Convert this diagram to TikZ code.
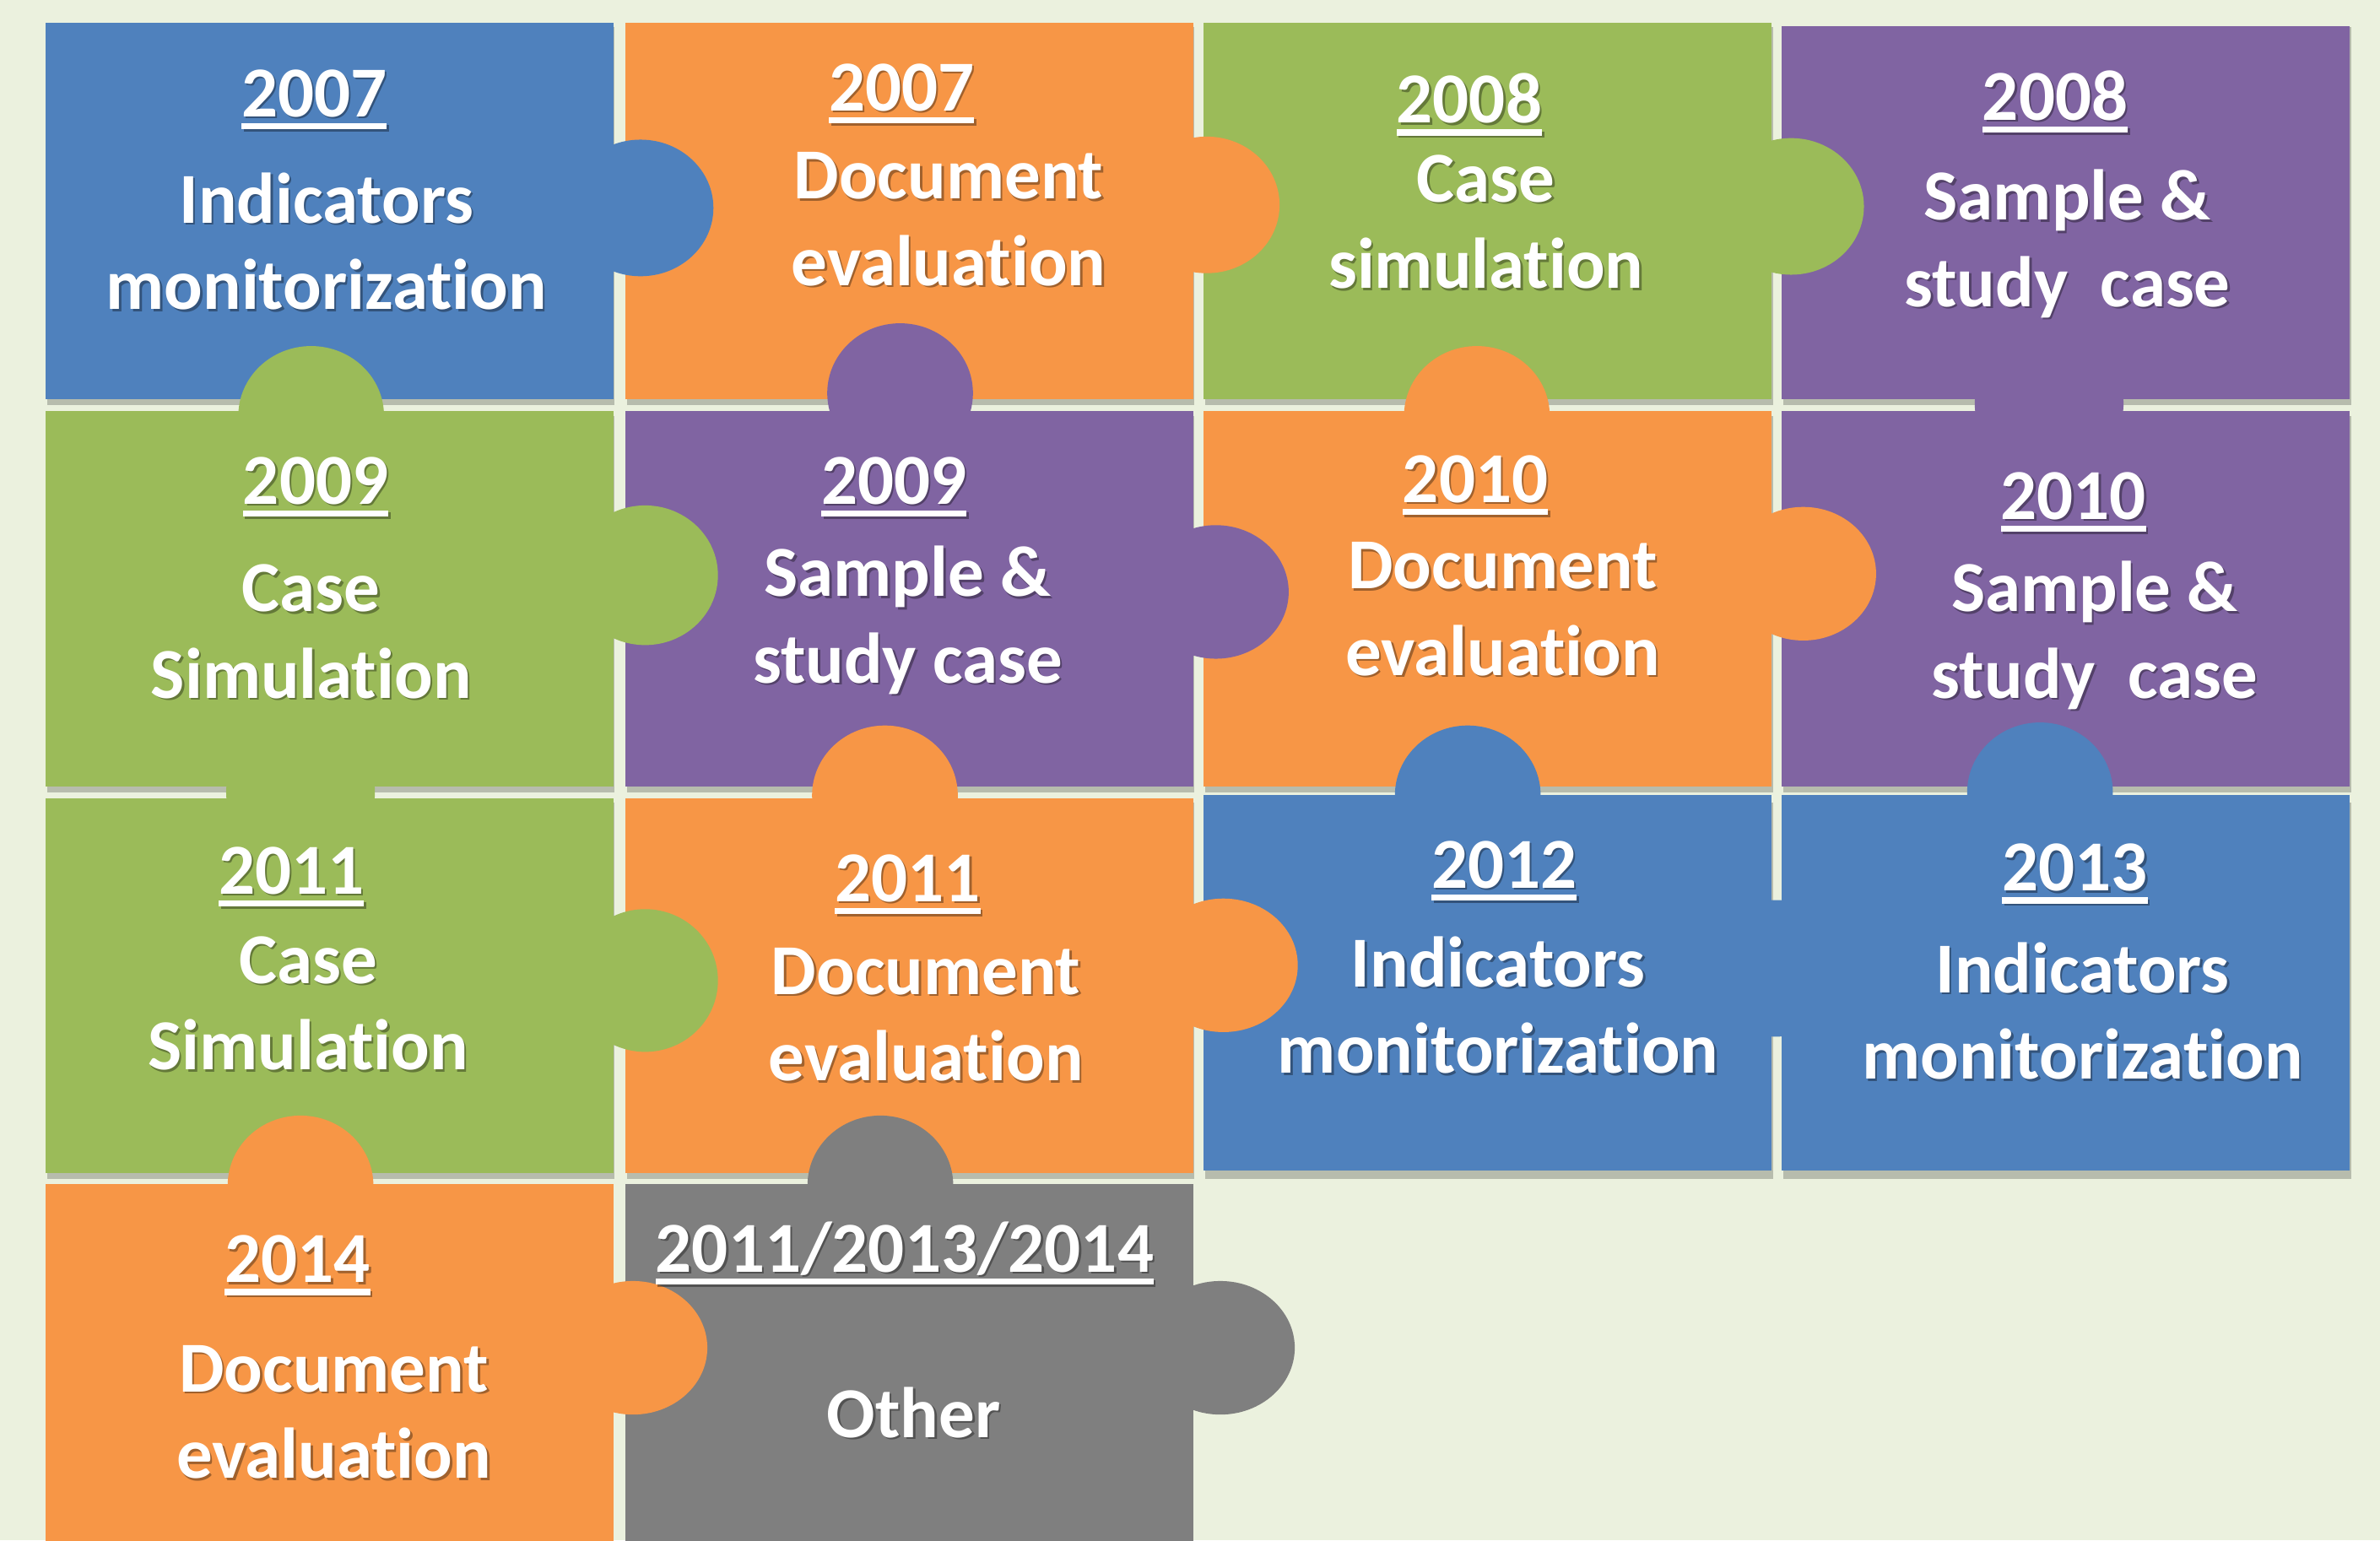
\documentclass[tikz,border=0pt]{standalone}
\usepackage{fontspec}
\setmainfont{Carlito}[Ligatures=NoCommon]
\definecolor{bgc}{HTML}{EBF1DE}
\definecolor{pblue}{HTML}{4F81BD}
\definecolor{porange}{HTML}{F79646}
\definecolor{pgreen}{HTML}{9BBB59}
\definecolor{ppurple}{HTML}{8064A2}
\definecolor{pgray}{HTML}{7F7F7F}
\newcommand\yr[1]{\setbox0\hbox{#1}\leavevmode\rlap{\rule[-15pt]{\wd0}{7.5pt}}\box0}
\tikzset{
  txt/.style={anchor=base, inner sep=0pt, text=white, font=\fontsize{85}{102}\selectfont\bfseries},
  shd/.style={txt, text=black, opacity=.35},
}
\newcommand\tx[4]{%
  \node[shd] at ([xshift=2.5pt,yshift=-2.5pt]#2,#3) {#4};
  \node[txt] (#1) at (#2,#3) {#4};}
\newcommand\card[8]{% name, yearx, yeary, year, bodyx, line1y, line1, line2
  \tx{#1y}{#2}{#3}{\yr{#4}}
  \tx{#1a}{#5}{#6}{#7}
  \pgfmathsetmacro\secondy{#6+57}
  \tx{#1b}{#5}{\secondy}{#8}}
\begin{document}
\begin{tikzpicture}[x=1.7985pt,y=-1.7985pt]
\useasboundingbox (0,0) rectangle (1568,1015);
\clip (0,0) rectangle (1568,1015);
\fill[bgc] (0,0) rectangle (1568,1015);
% shadows of pieces
\foreach \xa/\xb in {30/404,412/786,793/1167,1174/1548}{
  \foreach \ya/\yb in {15/263,271/518}{
    \fill[black,opacity=.22] (\xa+1,\ya+3) rectangle (\xb+1,\yb+4);}}
\foreach \xa/\xb in {30/404,412/786,793/1167,1174/1548}{
  \fill[black,opacity=.22] (\xa+1,529) rectangle (\xb+1,777);}
% pieces
\fill[pblue]   (30,15)   rectangle (404,263);
\fill[porange] (412,15)  rectangle (786,263);
\fill[pgreen]  (793,15)  rectangle (1167,263);
\fill[ppurple] (1174,17) rectangle (1548,263);
\fill[pgreen]  (30,271)  rectangle (404,518);
\fill[ppurple] (412,271) rectangle (786,518);
\fill[porange] (793,271) rectangle (1167,518);
\fill[ppurple] (1174,271) rectangle (1548,518);
\fill[pgreen]  (30,526)  rectangle (404,773);
\fill[porange] (412,526) rectangle (786,773);
\fill[pblue]   (793,524) rectangle (1167,771);
\fill[pblue]   (1174,524) rectangle (1548,771);
\fill[porange] (30,780)  rectangle (404,1030);
\fill[pgray]   (412,780) rectangle (786,1030);
% vertical tabs (knobs reaching up)
\fill[pgreen]   (205,274) ellipse [x radius=48, y radius=46];
\fill[ppurple]  (593,259) ellipse [x radius=48, y radius=46];
\fill[porange]  (973,274) ellipse [x radius=48, y radius=46];
\fill[ppurple]  (1350,266) ellipse [x radius=49, y radius=46];
\fill[pgreen]   (198,522) ellipse [x radius=49, y radius=46];
\fill[porange]  (583,524) ellipse [x radius=48, y radius=46];
\fill[pblue]    (967,524) ellipse [x radius=48, y radius=46];
\fill[pblue]    (1344,522) ellipse [x radius=48, y radius=46];
\fill[porange]  (198,781) ellipse [x radius=48, y radius=46];
\fill[pgray]    (580,781) ellipse [x radius=48, y radius=46];
% horizontal tabs (knobs reaching right)
\fill[pblue]    (422,137) ellipse [x radius=48, y radius=45];
\fill[porange]  (795,135) ellipse [x radius=48, y radius=45];
\fill[pgreen]   (1180,136) ellipse [x radius=48, y radius=45];
\fill[pgreen]   (425,379) ellipse [x radius=48, y radius=46];
\fill[ppurple]  (801,390) ellipse [x radius=48, y radius=44];
\fill[porange]  (1188,378) ellipse [x radius=48, y radius=44];
\fill[pgreen]   (425,646) ellipse [x radius=48, y radius=47];
\fill[porange]  (806,636) ellipse [x radius=49, y radius=44];
\fill[pblue]    (1170,638) ellipse [x radius=48, y radius=45];
\fill[porange]  (417,888) ellipse [x radius=49, y radius=44];
\fill[pgray]    (804,888) ellipse [x radius=49, y radius=44];
% texts
\card{c11}{207}{77}{2007}{215}{147}{Indicators}{monitorization}
\card{c12}{594}{73}{2007}{625}{131}{Document}{evaluation}
\card{c13}{968}{81}{2008}{979}{133}{Case}{simulation}
\card{c14}{1354}{79}{2008}{1362}{145}{Sample \&}{study\ \ case}
\card{c21}{208}{332}{2009}{205}{403}{Case}{Simulation}
\card{c22}{589}{332}{2009}{598}{393}{Sample \&}{study case}
\card{c23}{972}{331}{2010}{990}{388}{Document}{evaluation}
\card{c24}{1366}{342}{2010}{1380}{403}{Sample \&}{study\ \ case}
\card{c31}{192}{589}{2011}{203}{648}{Case}{Simulation}
\card{c32}{598}{594}{2011}{610}{655}{Document}{evaluation}
\card{c33}{991}{585}{2012}{987}{650}{Indicators}{monitorization}
\card{c34}{1367}{587}{2013}{1372}{654}{Indicators}{monitorization}
\card{c41}{196}{845}{2014}{220}{917}{Document}{evaluation}
\tx{c42y}{596}{838}{\yr{2011/2013/2014}}
\tx{c42a}{602}{947}{Other}
\end{tikzpicture}
\end{document}
